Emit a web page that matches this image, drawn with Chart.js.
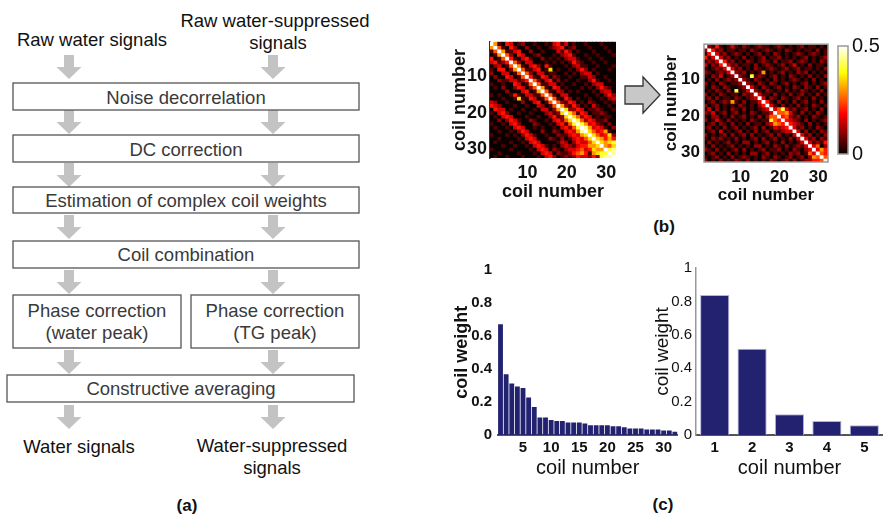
<!DOCTYPE html>
<html>
<head>
<meta charset="utf-8">
<script src="https://cdn.jsdelivr.net/npm/chart.js@4.4.1/dist/chart.umd.min.js"></script>
<style>
  body { margin: 0; background: #fff; font-family: 'Liberation Sans', Arial, sans-serif; }
  #page { position: relative; width: 883px; height: 517px; overflow: hidden; background: #fff; }
  canvas, svg, .lbl { position: absolute; }
  .lbl { font-weight: bold; font-size: 17px; color: #111; transform: translate(-50%, -50%); }
</style>
</head>
<body>
<div id="page">
  <svg width="380" height="517" style="left:0;top:0;font-family:'Liberation Sans', Arial, sans-serif;font-size:18.5px">
    <defs>
      <polygon id="dn" points="-5,0 5,0 5,12 12.5,12 0,24 -12.5,12 -5,12" fill="#c3c3c3"/>
    </defs>
    <g fill="#111" text-anchor="middle">
      <text x="92" y="46">Raw water signals</text>
      <text x="275" y="27">Raw water-suppressed</text>
      <text x="278" y="49">signals</text>
      <text x="79" y="453">Water signals</text>
      <text x="272" y="452">Water-suppressed</text>
      <text x="272" y="474">signals</text>
    </g>
    <use href="#dn" x="69" y="55"/><use href="#dn" x="273" y="55"/>
    <use href="#dn" x="69" y="110"/><use href="#dn" x="273" y="110"/>
    <use href="#dn" x="69" y="163"/><use href="#dn" x="273" y="163"/>
    <use href="#dn" x="69" y="215"/><use href="#dn" x="273" y="215"/>
    <use href="#dn" x="69" y="270"/><use href="#dn" x="273" y="270"/>
    <use href="#dn" x="69" y="350"/><use href="#dn" x="273" y="350"/>
    <use href="#dn" x="69" y="405"/><use href="#dn" x="273" y="405"/>
    <g fill="#fff" stroke="#555" stroke-width="1.3">
      <rect x="13" y="83" width="346" height="27"/>
      <rect x="13" y="135" width="346" height="27"/>
      <rect x="13" y="187" width="346" height="26"/>
      <rect x="13" y="241" width="346" height="27"/>
      <rect x="13" y="295" width="168" height="53"/>
      <rect x="191" y="295" width="168" height="53"/>
      <rect x="7" y="375" width="347" height="27"/>
    </g>
    <g fill="#3a3a3a" text-anchor="middle">
      <text x="186" y="104">Noise decorrelation</text>
      <text x="186" y="156">DC correction</text>
      <text x="186" y="207">Estimation of complex coil weights</text>
      <text x="186" y="261">Coil combination</text>
      <text x="97" y="317">Phase correction</text>
      <text x="97" y="339">(water peak)</text>
      <text x="275" y="317">Phase correction</text>
      <text x="275" y="339">(TG peak)</text>
      <text x="181" y="395">Constructive averaging</text>
    </g>
  </svg>
  <svg width="50" height="50" style="left:620px;top:70px">
    <polygon points="5,16 23,16 23,7 40,25 23,43 23,34 5,34" fill="#c8c8c8" stroke="#333" stroke-width="1.3"/>
  </svg>
  <div class="lbl" style="left:187px;top:506px">(a)</div>
  <div class="lbl" style="left:664px;top:227px">(b)</div>
  <div class="lbl" style="left:663px;top:505px">(c)</div>

  <canvas id="corrBefore" width="185" height="182" style="left:440px;top:28px"></canvas>
  <canvas id="corrAfter" width="184" height="180" style="left:650px;top:30px"></canvas>
  <canvas id="cbar" width="47" height="140" style="left:836px;top:30px"></canvas>
  <canvas id="bars32" width="245" height="230" style="left:440px;top:255px"></canvas>
  <canvas id="bars5" width="243" height="230" style="left:640px;top:255px"></canvas>
</div>
<script>
const coilNumbers = ['1','2','3','4','5','6','7','8','9','10','11','12','13','14','15','16',
  '17','18','19','20','21','22','23','24','25','26','27','28','29','30','31','32'];
const top5Coils = ['1','2','3','4','5'];
const coilWeightsAll = [0.67, 0.367, 0.312, 0.294, 0.284, 0.227, 0.169, 0.106, 0.106, 0.09, 0.084, 0.084,
  0.076, 0.076, 0.076, 0.069, 0.059, 0.059, 0.059, 0.059, 0.053, 0.053, 0.047, 0.039, 0.039, 0.039,
  0.033, 0.033, 0.033, 0.027, 0.027, 0.02];
const coilWeightsTop5 = [0.839, 0.516, 0.124, 0.084, 0.059];
const barTicksX = ['5','10','15','20','25','30'];
const matrixTicks = [10, 20, 30];
const colorbarTicks = [0, 0.5];

// noise correlation, one char per coil, in steps of 0.05 (a = 0.5)
const noiseCorrBefore = [
  "a6104301 20010010 34130100 10001000",
  "6a510420 02001001 23401200 01000100",
  "15a61134 00200100 03142010 00100010",
  "016a5204 30012000 10234100 10010001",
  "4015a410 34100201 01023310 01001000",
  "34124a52 03300010 10101421 00100100",
  "023015a6 10342041 00010231 10010001",
  "1044026a 51134017 01001024 20100010",
  "20033015 a5203301 10010102 33010000",
  "02004301 5a410430 21001001 13200100",
  "00211331 24a52034 02010010 02410010",
  "10010043 015a5113 30100100 10233000",
  "01020024 3025a610 43010001 01024210",
  "00002000 34016a51 03201010 00102330",
  "10100141 033115a5 10330000 10010242",
  "00010017 1043015a 51042010 01001023",
  "32001000 20034015 a5214301 02100101",
  "43200010 01003201 5a621420 10310010",
  "04330100 10010330 26a72243 01121001",
  "10342001 00100023 127a7514 30112100",
  "01034300 01001002 4127a752 43010110",
  "00202431 00210010 34257a85 24311200",
  "10010342 00021001 034158a8 63421020",
  "01001034 30010100 1034258a 96343102",
  "00100102 43000200 21034369 a7534610",
  "10001010 24310010 02113436 7a753472",
  "00100001 03430002 10201343 57a76464",
  "01000100 10343000 01320243 357a7678",
  "00010010 01034310 10232134 4667a657",
  "10000100 00103430 21023345 34766a89",
  "00100001 00010343 02112456 416788a9",
  "01001000 10001034 20121243 3242899a"
];
const noiseCorrAfter = [
  "a2141013 10210121 10121010 12011010",
  "2a412011 01102101 21010210 10110201",
  "14a31201 21010120 10210101 21012101",
  "413a3120 10201012 01120101 01201012",
  "1213a412 01021012 10201120 12101021",
  "30214a31 20110201 21012013 01020110",
  "101213a3 12010210 12101201 20110102",
  "2101213a 21201016 01012010 21201010",
  "10213012 a2108121 01201021 01020102",
  "01020121 2a210210 10201012 10102010",
  "20102101 12a21021 02101201 01201012",
  "10210210 012a3102 10120102 10210201",
  "01021020 8013a210 21010201 02101020",
  "20102101 10212a31 10201020 12010201",
  "12020110 210123a3 02102101 20102010",
  "01201216 1020113a 41020102 01201020",
  "20120101 02101024 a3102010 20102101",
  "13020102 10201012 3a358312 01201020",
  "21301201 20102101 13a55631 02010210",
  "10220102 01201020 255a4521 20102101",
  "20131020 10102101 1854a432 10201012",
  "01202102 01020110 23654a43 21020101",
  "12010201 20101202 013234a3 12010210",
  "01203010 12010201 2011233a 30201021",
  "20101202 01202010 12020103 a3120102",
  "10212010 20101202 01201020 3a312021",
  "02010120 10220101 20102010 13a31214",
  "10201012 01010220 10210201 213a3502",
  "21020101 20201012 01120102 1023a364",
  "01201020 10102201 20101021 20153a54",
  "10120102 01210102 10210120 120265a5",
  "20102010 21020101 02101202 0122445a"
];

Chart.defaults.font.family = "'Liberation Sans', Arial, sans-serif";
Chart.defaults.color = '#111';

// matlab-like "hot" colormap, colour limits 0..0.5
function hot(v) {
  const t = Math.min(1, Math.max(0, v / 0.5));
  const r = Math.min(1, 0.04 + t * 8 / 3);
  const g = Math.min(1, Math.max(0, t * 8 / 3 - 1));
  const b = Math.min(1, Math.max(0, t * 4 - 3));
  return `rgb(${Math.round(r * 255)},${Math.round(g * 255)},${Math.round(b * 255)})`;
}

const framePlugin = {
  id: 'frame',
  afterDatasetsDraw(chart, args, opts) {
    if (!opts || !opts.color) return;
    const { ctx, chartArea: a } = chart;
    ctx.save();
    ctx.strokeStyle = opts.color;
    ctx.lineWidth = opts.width || 1;
    ctx.strokeRect(a.left, a.top, a.right - a.left, a.bottom - a.top);
    ctx.restore();
  }
};

// each row of the matrix is one dataset of floating bars
// (bars a bit oversized so neighbouring cells overlap and no seams show)
function matrixDatasets(rows) {
  return rows.map((row, i) => {
    const vals = row.replace(/ /g, '').split('').map((ch) => parseInt(ch, 11) * 0.05);
    const r = i + 1;
    return {
      data: vals.map(() => [r - 0.65, r + 0.65]),
      backgroundColor: vals.map(hot),
      borderWidth: 0,
      barPercentage: 1.3,
      categoryPercentage: 1,
      grouped: false,
    };
  });
}

function matrixChart(id, rows, cfg) {
  return new Chart(document.getElementById(id), {
    type: 'bar',
    data: { labels: coilNumbers, datasets: matrixDatasets(rows) },
    options: {
      responsive: false,
      animation: false,
      layout: { padding: cfg.padding },
      plugins: { legend: { display: false }, tooltip: { enabled: false }, frame: cfg.frame },
      scales: {
        x: {
          grid: { display: false, drawTicks: false },
          border: { display: false },
          ticks: {
            autoSkip: false, maxRotation: 0, padding: cfg.xTickPad,
            font: { size: cfg.tickSize, weight: 'bold' },
            callback(v) {
              const lab = this.getLabelForValue(v);
              return matrixTicks.includes(Number(lab)) ? lab : '';
            },
          },
          title: { display: true, text: 'coil number', font: { size: cfg.titleSize, weight: 'bold' }, padding: { top: 0, bottom: cfg.xTitlePad } },
          afterFit(s) { s.height = cfg.xHeight; },
        },
        y: {
          type: 'linear', reverse: true, min: 0.5, max: 32.5,
          grid: { display: false, drawTicks: false },
          border: cfg.yBorder,
          afterBuildTicks(s) { s.ticks = matrixTicks.map((v) => ({ value: v })); },
          ticks: { padding: cfg.yTickPad, font: { size: cfg.tickSize, weight: 'bold' } },
          title: { display: true, text: 'coil number', font: { size: cfg.titleSize, weight: 'bold' }, padding: { top: cfg.yTitlePad, bottom: 0 } },
          afterFit(s) { s.width = cfg.yWidth; },
        },
      },
    },
    plugins: [framePlugin],
  });
}

matrixChart('corrBefore', noiseCorrBefore, {
  padding: { top: 5, right: 9, left: 0, bottom: 0 },
  yWidth: 50, xHeight: 52, yTickPad: 3, xTickPad: 4, tickSize: 18, titleSize: 18,
  xTitlePad: 7, yTitlePad: 9,
  yBorder: { display: true, color: '#333', width: 1.5 },
  frame: {},
});

matrixChart('corrAfter', noiseCorrAfter, {
  padding: { top: 6, right: 6, left: 0, bottom: 0 },
  yWidth: 54, xHeight: 48, yTickPad: 4, xTickPad: 5, tickSize: 17, titleSize: 17,
  xTitlePad: 4, yTitlePad: 11.5,
  yBorder: { display: false },
  frame: { color: '#999', width: 1.5 },
});

// colour bar
new Chart(document.getElementById('cbar'), {
  type: 'bar',
  data: {
    labels: [''],
    datasets: [{
      data: [[colorbarTicks[0], colorbarTicks[1]]],
      backgroundColor: (c) => {
        const a = c.chart.chartArea;
        if (!a) return '#000';
        const g = c.chart.ctx.createLinearGradient(0, a.bottom, 0, a.top);
        g.addColorStop(0, hot(0));
        g.addColorStop(0.375, hot(0.1875));
        g.addColorStop(0.75, hot(0.375));
        g.addColorStop(1, hot(0.5));
        return g;
      },
      borderWidth: 0,
      barPercentage: 1,
      categoryPercentage: 1,
    }],
  },
  options: {
    responsive: false,
    animation: false,
    layout: { padding: { left: 2, top: 7, bottom: 8, right: 0 } },
    plugins: { legend: { display: false }, tooltip: { enabled: false }, frame: { color: '#999', width: 1.5 } },
    scales: {
      x: { display: false },
      y: {
        position: 'right', min: 0, max: 0.5,
        grid: { display: false, drawTicks: false },
        border: { display: false },
        afterBuildTicks(s) { s.ticks = colorbarTicks.map((v) => ({ value: v })); },
        ticks: { padding: 4, font: { size: 20 }, align: 'inner' },
        afterFit(s) { s.width = 35; },
      },
    },
  },
  plugins: [framePlugin],
});

const weightLabel = (v) => String(Math.round(v * 10) / 10);

// coil weights, all 32 coils
new Chart(document.getElementById('bars32'), {
  type: 'bar',
  data: {
    labels: coilNumbers,
    datasets: [{
      data: coilWeightsAll,
      backgroundColor: '#222271',
      borderWidth: 0,
      barPercentage: 0.86,
      categoryPercentage: 1,
    }],
  },
  options: {
    responsive: false,
    animation: false,
    layout: { padding: { top: 10, right: 7.3, left: 0, bottom: 0 } },
    plugins: { legend: { display: false }, tooltip: { enabled: false } },
    scales: {
      x: {
        grid: { display: false, drawTicks: false },
        border: { display: true, color: '#555', width: 2 },
        ticks: {
          autoSkip: false, maxRotation: 0, padding: 4, font: { size: 15, weight: 'bold' },
          callback(v) {
            const lab = this.getLabelForValue(v);
            return barTicksX.includes(lab) ? lab : '';
          },
        },
        title: { display: true, text: 'coil number', font: { size: 20 }, padding: { top: 0, bottom: 5 } },
        afterFit(s) { s.height = 50; },
      },
      y: {
        min: 0, max: 1,
        grid: { display: false, drawTicks: false },
        border: { display: false },
        ticks: { stepSize: 0.2, padding: 5.7, font: { size: 15, weight: 'bold' }, callback: weightLabel },
        title: { display: true, text: 'coil weight', font: { size: 18, weight: 'bold' }, padding: { top: 11, bottom: 0 } },
        afterFit(s) { s.width = 57.7; },
      },
    },
  },
});

// coil weights, 5 strongest coils
new Chart(document.getElementById('bars5'), {
  type: 'bar',
  data: {
    labels: top5Coils,
    datasets: [{
      data: coilWeightsTop5,
      backgroundColor: '#222271',
      borderColor: '#b4b4d8',
      borderWidth: 1,
      barPercentage: 0.78,
      categoryPercentage: 1,
    }],
  },
  options: {
    responsive: false,
    animation: false,
    layout: { padding: { top: 10, right: 0, left: 0, bottom: 0 } },
    plugins: { legend: { display: false }, tooltip: { enabled: false } },
    scales: {
      x: {
        grid: { display: false, drawTicks: false },
        border: { display: true, color: '#555', width: 2 },
        ticks: { maxRotation: 0, padding: 4, font: { size: 15, weight: 'bold' } },
        title: { display: true, text: 'coil number', font: { size: 20 }, padding: { top: 0, bottom: 5 } },
        afterFit(s) { s.height = 50; },
      },
      y: {
        min: 0, max: 1,
        grid: { display: false, drawTicks: false },
        border: { display: true, color: '#999', width: 1.5 },
        ticks: { stepSize: 0.2, padding: 4, font: { size: 15 }, callback: weightLabel },
        title: { display: true, text: 'coil weight', font: { size: 19 }, padding: { top: 11.6, bottom: 0 } },
        afterFit(s) { s.width = 56; },
      },
    },
  },
});
</script>
</body>
</html>
